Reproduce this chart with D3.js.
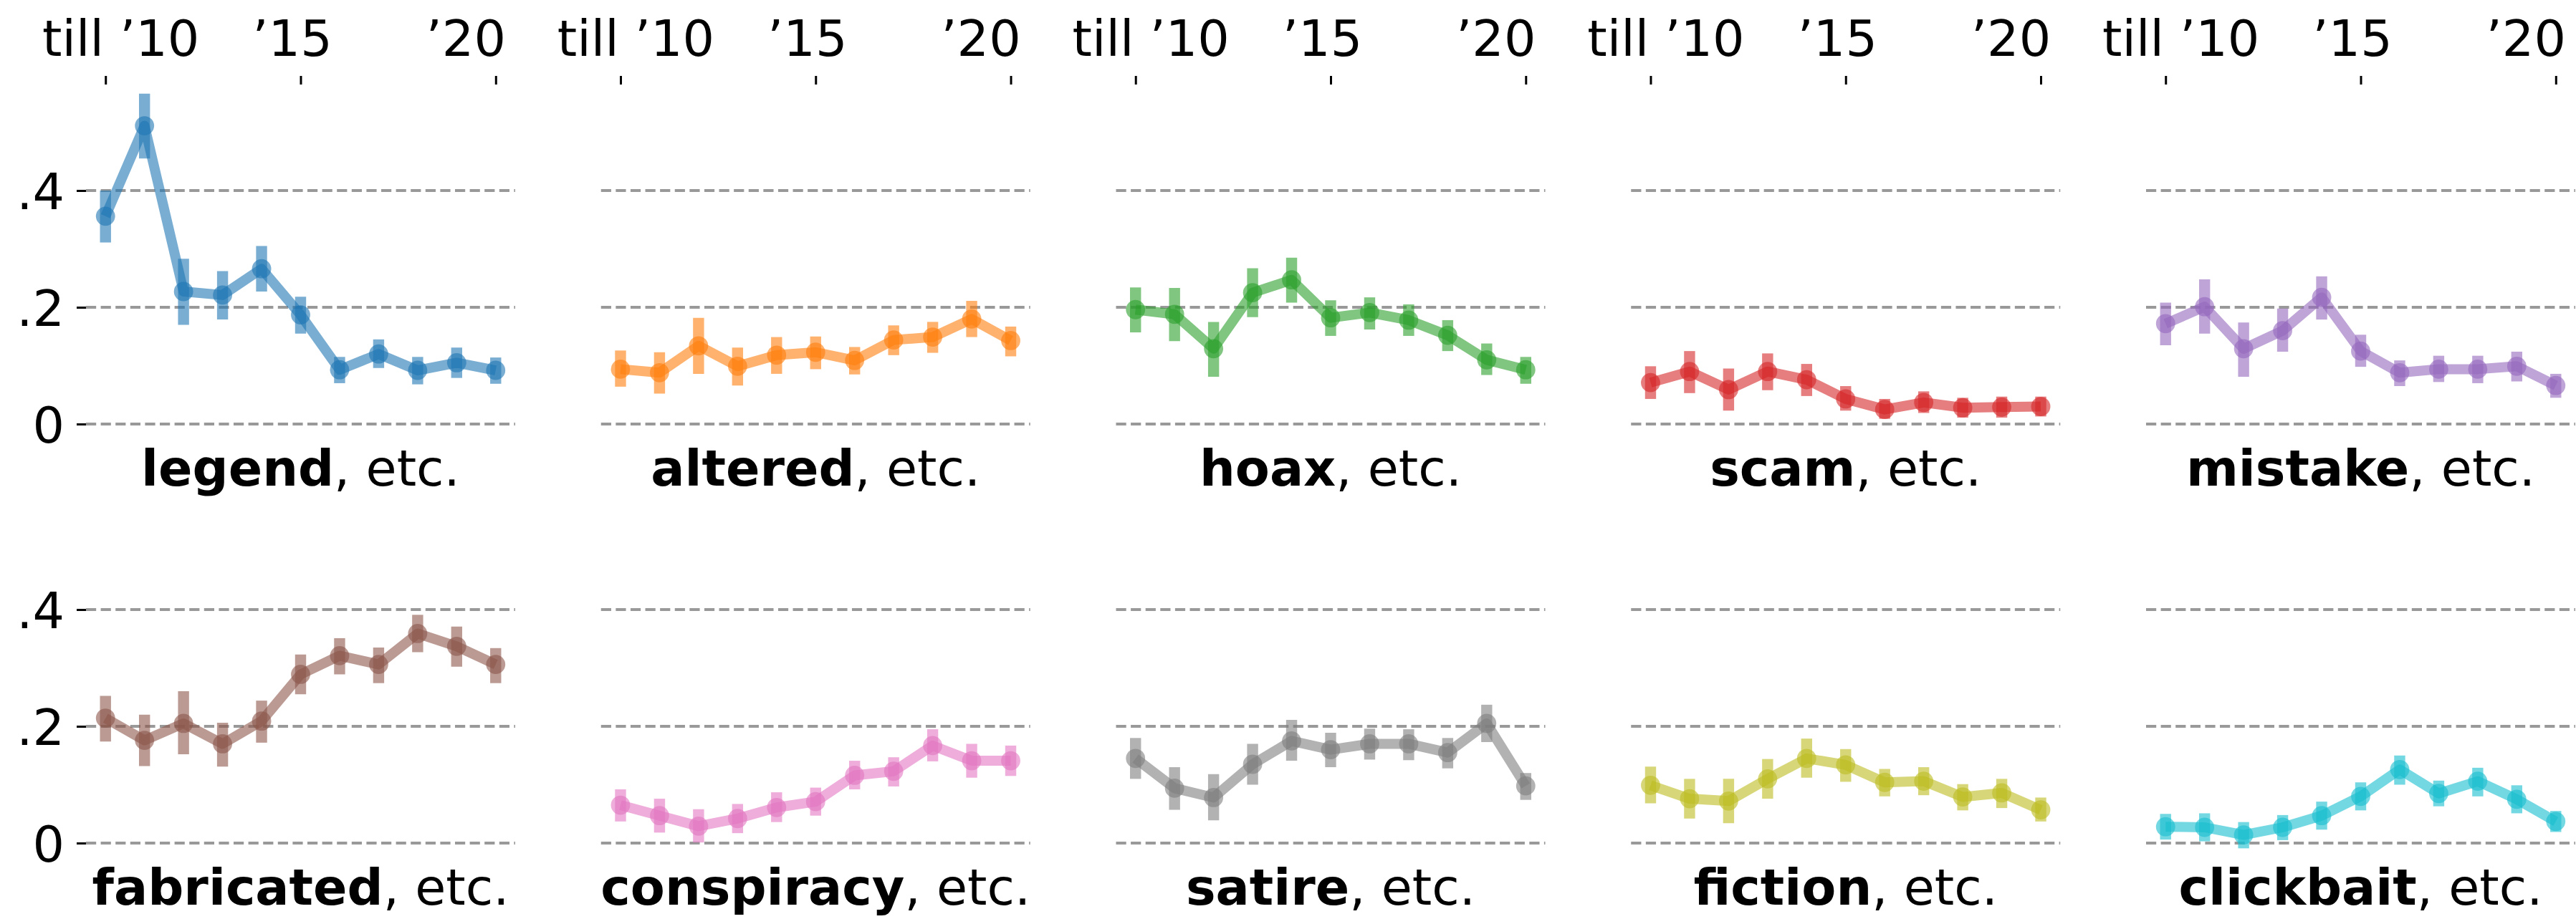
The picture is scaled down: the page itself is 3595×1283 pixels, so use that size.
<!DOCTYPE html>
<html><head><meta charset="utf-8">
<script src="https://cdn.jsdelivr.net/npm/d3@7"></script>
<style>
html,body{margin:0;padding:0;background:#fff;}
svg{display:block;}
text{font-family:"DejaVu Sans",sans-serif;}
</style>
</head><body>
<svg id="chart" width="3595" height="1283"></svg>
<script>
// ---------- data ----------
const years = [2010, 2011, 2012, 2013, 2014, 2015, 2016, 2017, 2018, 2019, 2020];
const xTickValues = [2010, 2015, 2020];
const xTickLabels = ["till \u201910", "\u201915", "\u201920"];
const yTickValues = [0, 0.2, 0.4];
const yTickLabels = ["0", ".2", ".4"];
const categories = ["legend", "altered", "hoax", "scam", "mistake",
                    "fabricated", "conspiracy", "satire", "fiction", "clickbait"];
const colors = ["#1f77b4", "#ff7f0e", "#2ca02c", "#d62728", "#9467bd",
                "#8c564b", "#e377c2", "#7f7f7f", "#bcbd22", "#17becf"];

const legendMean = [0.356, 0.511, 0.227, 0.221, 0.266, 0.187, 0.093, 0.120, 0.092, 0.105, 0.092];
const legendLow  = [0.311, 0.455, 0.170, 0.179, 0.227, 0.155, 0.070, 0.096, 0.068, 0.079, 0.069];
const legendHigh = [0.400, 0.566, 0.283, 0.262, 0.305, 0.218, 0.115, 0.145, 0.115, 0.131, 0.114];

const alteredMean = [0.094, 0.088, 0.134, 0.099, 0.118, 0.123, 0.109, 0.144, 0.149, 0.180, 0.143];
const alteredLow  = [0.064, 0.052, 0.086, 0.066, 0.086, 0.094, 0.085, 0.118, 0.122, 0.149, 0.116];
const alteredHigh = [0.126, 0.123, 0.182, 0.131, 0.149, 0.150, 0.132, 0.169, 0.175, 0.211, 0.167];

const hoaxMean = [0.196, 0.188, 0.129, 0.225, 0.247, 0.182, 0.191, 0.178, 0.152, 0.110, 0.093];
const hoaxLow  = [0.157, 0.142, 0.081, 0.183, 0.208, 0.151, 0.162, 0.151, 0.125, 0.084, 0.069];
const hoaxHigh = [0.234, 0.233, 0.175, 0.267, 0.285, 0.212, 0.217, 0.205, 0.178, 0.138, 0.115];

const scamMean = [0.071, 0.090, 0.059, 0.090, 0.076, 0.043, 0.025, 0.037, 0.028, 0.029, 0.030];
const scamLow  = [0.043, 0.053, 0.023, 0.058, 0.048, 0.023, 0.009, 0.019, 0.011, 0.011, 0.013];
const scamHigh = [0.099, 0.125, 0.095, 0.121, 0.103, 0.065, 0.043, 0.056, 0.045, 0.047, 0.047];

const mistakeMean = [0.172, 0.201, 0.129, 0.160, 0.217, 0.125, 0.088, 0.094, 0.094, 0.099, 0.066];
const mistakeLow  = [0.135, 0.155, 0.081, 0.124, 0.179, 0.098, 0.065, 0.072, 0.070, 0.073, 0.045];
const mistakeHigh = [0.208, 0.248, 0.174, 0.198, 0.253, 0.153, 0.109, 0.117, 0.117, 0.124, 0.086];

const fabricatedMean = [0.214, 0.176, 0.205, 0.170, 0.209, 0.289, 0.321, 0.306, 0.359, 0.337, 0.306];
const fabricatedLow  = [0.174, 0.132, 0.152, 0.131, 0.172, 0.255, 0.289, 0.274, 0.327, 0.302, 0.274];
const fabricatedHigh = [0.252, 0.220, 0.260, 0.206, 0.244, 0.323, 0.351, 0.335, 0.391, 0.371, 0.334];

const conspiracyMean = [0.065, 0.047, 0.029, 0.042, 0.061, 0.071, 0.116, 0.123, 0.167, 0.141, 0.141];
const conspiracyLow  = [0.037, 0.018, 0.001, 0.017, 0.036, 0.047, 0.092, 0.097, 0.140, 0.112, 0.115];
const conspiracyHigh = [0.092, 0.076, 0.058, 0.067, 0.087, 0.095, 0.141, 0.147, 0.195, 0.170, 0.167];

const satireMean = [0.145, 0.094, 0.078, 0.135, 0.175, 0.160, 0.170, 0.170, 0.155, 0.205, 0.098];
const satireLow  = [0.110, 0.057, 0.039, 0.100, 0.141, 0.130, 0.143, 0.142, 0.128, 0.173, 0.074];
const satireHigh = [0.180, 0.130, 0.118, 0.170, 0.211, 0.189, 0.196, 0.195, 0.180, 0.237, 0.120];

const fictionMean = [0.099, 0.076, 0.072, 0.110, 0.145, 0.134, 0.104, 0.106, 0.079, 0.086, 0.057];
const fictionLow  = [0.068, 0.042, 0.034, 0.076, 0.112, 0.105, 0.080, 0.082, 0.056, 0.060, 0.037];
const fictionHigh = [0.131, 0.110, 0.110, 0.144, 0.179, 0.161, 0.127, 0.130, 0.101, 0.110, 0.078];

const clickbaitMean = [0.028, 0.027, 0.014, 0.027, 0.047, 0.080, 0.126, 0.085, 0.106, 0.075, 0.037];
const clickbaitLow  = [0.006, 0.003, -0.009, 0.005, 0.023, 0.056, 0.100, 0.063, 0.080, 0.051, 0.019];
const clickbaitHigh = [0.050, 0.051, 0.036, 0.048, 0.071, 0.104, 0.150, 0.107, 0.129, 0.099, 0.055];

const seriesMeans = [legendMean, alteredMean, hoaxMean, scamMean, mistakeMean,
                     fabricatedMean, conspiracyMean, satireMean, fictionMean, clickbaitMean];
const seriesLows  = [legendLow, alteredLow, hoaxLow, scamLow, mistakeLow,
                     fabricatedLow, conspiracyLow, satireLow, fictionLow, clickbaitLow];
const seriesHighs = [legendHigh, alteredHigh, hoaxHigh, scamHigh, mistakeHigh,
                     fabricatedHigh, conspiracyHigh, satireHigh, fictionHigh, clickbaitHigh];

// ---------- layout ----------
const svg = d3.select("#chart");
svg.append("rect").attr("width", 3595).attr("height", 1283).attr("fill", "#fff");

const panelW = 599, colStep = 718.75, left0 = 120;
const rowTops = [118, 703];
const pxPerUnit = 815;
const yMax = 0.5816, yMin = -0.04;
const panelH = (yMax - yMin) * pxPerUnit;
const fontSize = 70;
const xLabelShift = [21, -12, -42];   // label offset from its tick, as in the original

const x = d3.scaleLinear().domain([2009.5, 2020.5]).range([0, panelW]);
const y = d3.scaleLinear().domain([yMin, yMax]).range([panelH, 0]);

categories.forEach((cat, i) => {
  const r = Math.floor(i / 5), c = i % 5;
  const g = svg.append("g")
    .attr("transform", `translate(${left0 + c * colStep},${rowTops[r]})`);
  const col = colors[i];

  // dashed grid lines
  g.selectAll("line.grid").data(yTickValues).enter().append("line")
    .attr("class", "grid")
    .attr("x1", 0).attr("x2", panelW)
    .attr("y1", d => y(d)).attr("y2", d => y(d))
    .attr("stroke", "#999999").attr("stroke-width", 3.8)
    .attr("stroke-dasharray", "14.2,6.4");

  // top x axis (first row only)
  if (r === 0) {
    const ax = d3.axisTop(x).tickValues(xTickValues)
      .tickFormat((d, k) => xTickLabels[k]).tickSize(12).tickPadding(28.4);
    const axg = g.append("g").call(ax);
    axg.select(".domain").remove();
    axg.selectAll(".tick line").attr("stroke", "#000").attr("stroke-width", 3);
    axg.selectAll(".tick text").attr("font-size", fontSize)
      .attr("font-family", "DejaVu Sans").attr("fill", "#000")
      .attr("dx", (d, k) => xLabelShift[k]);
  }
  // left y axis (first column only)
  if (c === 0) {
    const ay = d3.axisLeft(y).tickValues(yTickValues)
      .tickFormat((d, k) => yTickLabels[k]).tickSize(13).tickPadding(17);
    const ayg = g.append("g").call(ay);
    ayg.select(".domain").remove();
    ayg.selectAll(".tick line").attr("stroke", "#000").attr("stroke-width", 3);
    ayg.selectAll(".tick text").attr("font-size", fontSize)
      .attr("font-family", "DejaVu Sans").attr("fill", "#000").attr("dy", "0.364em");
  }

  const means = seriesMeans[i], lows = seriesLows[i], highs = seriesHighs[i];
  const pts = years.map((yr, k) => ({yr, m: means[k], lo: lows[k], hi: highs[k]}));

  // line
  g.append("path").datum(pts)
    .attr("d", d3.line().x(d => x(d.yr)).y(d => y(d.m)))
    .attr("fill", "none").attr("stroke", col).attr("stroke-opacity", 0.6)
    .attr("stroke-width", 14).attr("stroke-linejoin", "round").attr("stroke-linecap", "butt");

  // error bars
  g.selectAll("line.err").data(pts).enter().append("line")
    .attr("class", "err")
    .attr("x1", d => x(d.yr)).attr("x2", d => x(d.yr))
    .attr("y1", d => y(d.lo)).attr("y2", d => y(d.hi))
    .attr("stroke", col).attr("stroke-opacity", 0.6).attr("stroke-width", 15.4);

  // markers
  g.selectAll("circle.pt").data(pts).enter().append("circle")
    .attr("class", "pt")
    .attr("cx", d => x(d.yr)).attr("cy", d => y(d.m)).attr("r", 13.4)
    .attr("fill", col).attr("fill-opacity", 0.6);

  // title below
  const t = g.append("text")
    .attr("x", panelW / 2).attr("y", 560)
    .attr("text-anchor", "middle").attr("font-size", fontSize).attr("fill", "#000");
  t.append("tspan").attr("font-weight", "bold").text(cat);
  t.append("tspan").text(", etc.");
});
</script>
</body></html>
